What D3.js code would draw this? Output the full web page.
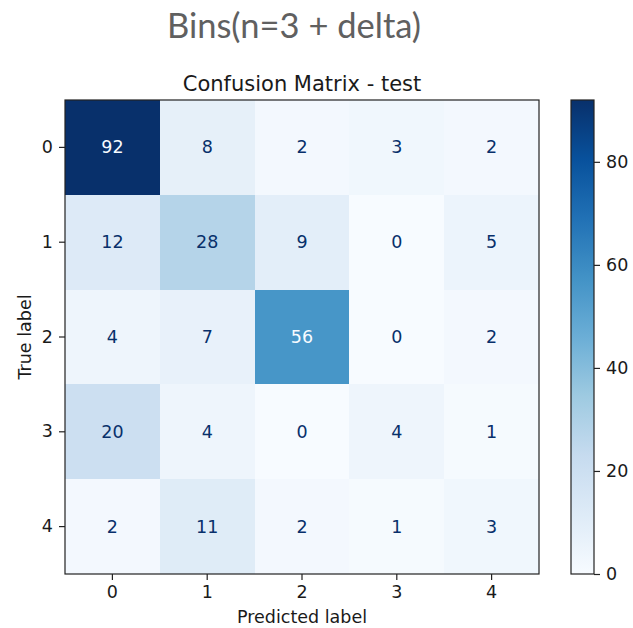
<!DOCTYPE html>
<html>
<head>
<meta charset="utf-8">
<script src="https://cdn.jsdelivr.net/npm/d3@7.9.0/dist/d3.min.js"></script>
<style>
  body { margin: 0; background: #fff; }
  svg text { font-family: "DejaVu Sans", sans-serif; fill: #1a1a1a; }
</style>
</head>
<body>
<svg id="chart" width="633" height="628"></svg>
<script>
const labels = ["0", "1", "2", "3", "4"];
const matrix = [
  [92, 8, 2, 3, 2],
  [12, 28, 9, 0, 5],
  [4, 7, 56, 0, 2],
  [20, 4, 0, 4, 1],
  [2, 11, 2, 1, 3]
];
const cbarTicks = [0, 20, 40, 60, 80];

// matplotlib "Blues" anchors
const bluesStops = ["#f7fbff", "#deebf7", "#c6dbef", "#9ecae1", "#6baed6",
                    "#4292c6", "#2171b5", "#08519c", "#08306b"];

const svg = d3.select("#chart");

const m = { left: 65, top: 100, size: 474 };
const fs = "17.5px";
const vmax = d3.max(matrix.flat());
const vmin = d3.min(matrix.flat());

const blues = d3.scaleLinear()
  .domain(d3.range(bluesStops.length).map(i => i / (bluesStops.length - 1)))
  .range(bluesStops)
  .interpolate(d3.interpolateRgb);
const color = v => blues((v - vmin) / (vmax - vmin));

const x = d3.scaleBand().domain(labels).range([m.left, m.left + m.size]);
const y = d3.scaleBand().domain(labels).range([m.top, m.top + m.size]);

// page title
svg.append("text")
  .attr("x", 294).attr("y", 38)
  .attr("text-anchor", "middle")
  .style("font-family", "Lato, sans-serif")
  .style("font-size", "34.5px")
  .style("fill", "#606060")
  .text("Bins(n=3 + delta)");

// chart title
svg.append("text")
  .attr("x", m.left + m.size / 2).attr("y", 91)
  .attr("text-anchor", "middle")
  .style("font-size", "21px")
  .text("Confusion Matrix - test");

const cells = [];
matrix.forEach((row, i) => row.forEach((v, j) => cells.push({ r: labels[i], c: labels[j], v })));

svg.append("g").selectAll("rect").data(cells).join("rect")
  .attr("x", d => x(d.c)).attr("y", d => y(d.r))
  .attr("width", x.bandwidth()).attr("height", y.bandwidth())
  .attr("fill", d => color(d.v))
  .attr("shape-rendering", "crispEdges");

const thresh = (vmax + vmin) / 2;
svg.append("g").selectAll("text").data(cells).join("text")
  .attr("x", d => x(d.c) + x.bandwidth() / 2)
  .attr("y", d => y(d.r) + y.bandwidth() / 2)
  .attr("text-anchor", "middle")
  .attr("dominant-baseline", "central")
  .style("font-size", fs)
  .style("fill", d => d.v > thresh ? bluesStops[0] : bluesStops[8])
  .text(d => d.v);

// frame
svg.append("rect")
  .attr("x", m.left).attr("y", m.top)
  .attr("width", m.size).attr("height", m.size)
  .attr("fill", "none").attr("stroke", "#222").attr("stroke-width", 1.2);

const xAxis = svg.append("g")
  .attr("transform", `translate(0,${m.top + m.size})`)
  .call(d3.axisBottom(x).tickSize(6).tickPadding(6));
const yAxis = svg.append("g")
  .attr("transform", `translate(${m.left},0)`)
  .call(d3.axisLeft(y).tickSize(6).tickPadding(6));
[xAxis, yAxis].forEach(a => {
  a.select(".domain").remove();
  a.selectAll(".tick line").attr("stroke", "#222").attr("stroke-width", 1.2);
  a.selectAll(".tick text").style("font-size", fs).attr("fill", "#1a1a1a");
});

svg.append("text")
  .attr("x", m.left + m.size / 2).attr("y", 623)
  .attr("text-anchor", "middle")
  .style("font-size", fs)
  .text("Predicted label");

svg.append("text")
  .attr("transform", `translate(31,${m.top + m.size / 2}) rotate(-90)`)
  .attr("text-anchor", "middle")
  .style("font-size", fs)
  .text("True label");

// colorbar
const cb = { x: 571, w: 23 };
const cy = d3.scaleLinear().domain([vmin, vmax]).range([m.top + m.size, m.top]);
const grad = svg.append("defs").append("linearGradient")
  .attr("id", "cbgrad").attr("x1", 0).attr("y1", 1).attr("x2", 0).attr("y2", 0);
grad.selectAll("stop").data(bluesStops).join("stop")
  .attr("offset", (d, i) => i / (bluesStops.length - 1))
  .attr("stop-color", d => d);
svg.append("rect")
  .attr("x", cb.x).attr("y", m.top)
  .attr("width", cb.w).attr("height", m.size)
  .attr("fill", "url(#cbgrad)")
  .attr("stroke", "#222").attr("stroke-width", 1.2);

const cAxis = svg.append("g")
  .attr("transform", `translate(${cb.x + cb.w},0)`)
  .call(d3.axisRight(cy).tickValues(cbarTicks).tickSize(6).tickPadding(6));
cAxis.select(".domain").remove();
cAxis.selectAll(".tick line").attr("stroke", "#222").attr("stroke-width", 1.2);
cAxis.selectAll(".tick text").style("font-size", fs).attr("fill", "#1a1a1a");
</script>
</body>
</html>
